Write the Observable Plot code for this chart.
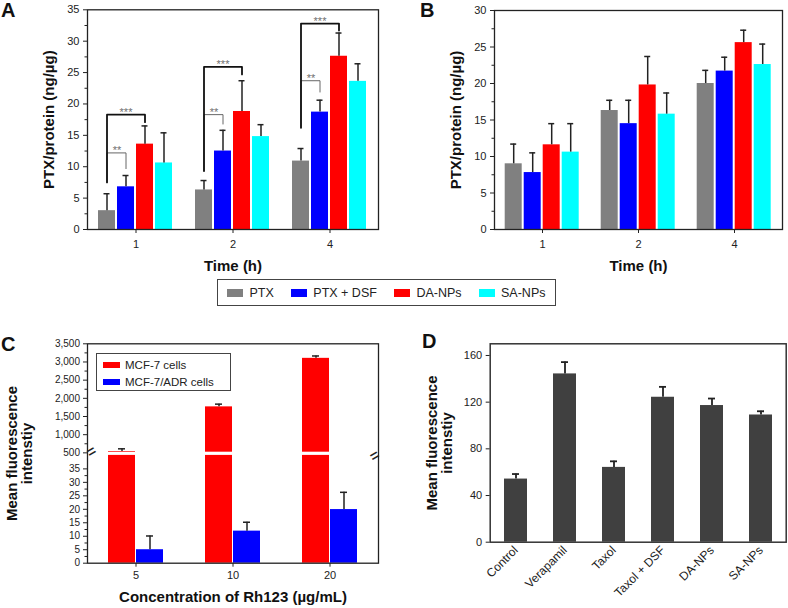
<!DOCTYPE html>
<html><head><meta charset="utf-8">
<script src="https://cdn.jsdelivr.net/npm/d3@7"></script>
<script src="https://cdn.jsdelivr.net/npm/@observablehq/plot@0.6"></script>
<style>
body{margin:0;background:#fff;font-family:"Liberation Sans",Arial,sans-serif;color:#222}
#fig{position:relative;width:788px;height:608px;overflow:hidden;background:#fff}
.panel{position:absolute}
.letter{position:absolute;font-weight:bold;font-size:20px;line-height:20px;color:#111}
svg [aria-label$="axis label"]{font-weight:bold;font-size:15px;fill:#111}
#legMain{position:absolute;left:217px;top:279px;width:337px;height:25px;border:1px solid #444;font-size:12.5px;display:flex;align-items:center;white-space:nowrap}
#legMain .it{display:flex;align-items:center;flex:none;margin-right:17px}
#legMain .it:first-child{margin-left:9px}
#legMain .sw{width:16px;height:8px;margin-right:6.5px;flex:none}
#legC{position:absolute;left:96px;top:353px;width:133px;height:36px;border:1px solid #444;font-size:11.5px;background:#fff;white-space:nowrap}
#legC .it{display:flex;align-items:center;height:13px;margin-left:6px;margin-top:4px}
#legC .sw{width:17px;height:6px;margin-right:5px;flex:none}
</style></head>
<body><div id="fig">
<div class="letter" style="left:1px;top:0px">A</div>
<div class="letter" style="left:420px;top:0px">B</div>
<div class="letter" style="left:1px;top:334px">C</div>
<div class="letter" style="left:422px;top:331px">D</div>
<div class="panel" id="pA" style="left:0;top:0"></div>
<div class="panel" id="pB" style="left:394px;top:0"></div>
<div class="panel" id="pC" style="left:0;top:330px"></div>
<div class="panel" id="pD" style="left:394px;top:330px"></div>
<div id="legMain"></div>
<div id="legC"></div>
</div>
<script>
// ---------- Data ----------
const times = ["1", "2", "4"];
const series = ["PTX", "PTX + DSF", "DA-NPs", "SA-NPs"];
const seriesColors = ["#808080", "#0000ff", "#ff0000", "#00ffff"];

// Panel A: mean and SD per series, at times 1, 2, 4 h
const aPTX = [3.0, 6.3, 10.9],  aPTXsd = [2.7, 1.5, 2.0];
const aDSF = [6.8, 12.5, 18.7], aDSFsd = [1.8, 3.3, 1.9];
const aDA  = [13.6, 18.8, 27.6], aDAsd = [2.9, 4.9, 3.7];
const aSA  = [10.6, 14.8, 23.6], aSAsd = [4.8, 1.9, 2.8];

// Panel B
const bPTX = [9.0, 16.3, 20.0], bPTXsd = [2.7, 1.4, 1.8];
const bDSF = [7.8, 14.5, 21.7], bDSFsd = [2.7, 3.2, 1.9];
const bDA  = [11.6, 19.8, 25.6], bDAsd = [2.9, 3.9, 1.7];
const bSA  = [10.6, 15.8, 22.6], bSAsd = [3.9, 2.9, 2.8];

// Significance brackets in panel A (all start at PTX)
const aBrackets = [
  {time: "1", to: "DA-NPs",    top: 18.3, legFrom: 7.5,  legTo: 17.1, label: "***"},
  {time: "1", to: "PTX + DSF", top: 12.2, legFrom: 7.5,  legTo: 9.7,  label: "**"},
  {time: "2", to: "DA-NPs",    top: 25.9, legFrom: 9.3,  legTo: 24.7, label: "***"},
  {time: "2", to: "PTX + DSF", top: 18.3, legFrom: 9.3,  legTo: 16.8, label: "**"},
  {time: "4", to: "DA-NPs",    top: 32.8, legFrom: 16.2, legTo: 31.7, label: "***"},
  {time: "4", to: "PTX + DSF", top: 23.7, legFrom: 16.2, legTo: 21.9, label: "**"}
];

const abTicks = [0, 5, 10, 15, 20, 25, 30, 35];
const abMinor = [2.5, 7.5, 12.5, 17.5, 22.5, 27.5, 32.5];

// Panel C
const concs = ["5", "10", "20"];
const cSeries = ["MCF-7 cells", "MCF-7/ADR cells"];
const cColors = ["#ff0000", "#0000ff"];
const cMCF7 = [537, 1765, 3100], cMCF7sd = [74, 75, 65];
const cADR = [5.0, 11.9, 19.9],  cADRsd = [5.1, 3.3, 6.4];
const cTicksLow = [0, 5, 10, 15, 20, 25, 30, 35];
const cTicksHigh = [500, 1000, 1500, 2000, 2500, 3000, 3500];
const cMinorLow = [2.5, 7.5, 12.5, 17.5, 22.5, 27.5, 32.5];
const cMinorHigh = [750, 1250, 1750, 2250, 2750, 3250];
const cBreaks = [{c: "5", side: "left"}, {c: "20", side: "right"}];

// Panel D
const dGroups = ["Control", "Verapamil", "Taxol", "Taxol + DSF", "DA-NPs", "SA-NPs"];
const dMean = [54.1, 144.2, 64.1, 124.2, 117.1, 109.0];
const dSd = [4.3, 10.1, 5.2, 8.9, 6.0, 3.2];
const dTicks = [0, 40, 80, 120, 160];

const FONT = "Liberation Sans, Arial, sans-serif";
const INK = "#222";

function rowsFrom(cats, keys, means, sds) {
  return cats.flatMap((c, i) => keys.map((k, j) => ({cat: c, key: k, v: means[j][i], top: means[j][i] + sds[j][i]})));
}

function grouped({means, sds, yMax, mL, mR, mT, brackets}) {
  const rows = rowsFrom(times, series, means, sds);
  const marks = [
    Plot.barY(rows, {fx: "cat", x: "key", y: "v", fill: "key"}),
    Plot.ruleX(rows, {fx: "cat", x: "key", y1: "v", y2: "top", stroke: INK, strokeWidth: 1.5}),
    Plot.tickY(rows, {fx: "cat", x: "key", y: "top", stroke: INK, strokeWidth: 1.5, insetLeft: 5.5, insetRight: 5.5}),
    Plot.axisY(abTicks, {tickSize: 4, tickPadding: 4, fontSize: 11, label: "PTX/protein (ng/µg)", labelArrow: "none", labelAnchor: "center", labelOffset: 44}),
    Plot.axisY(abMinor, {tickSize: 2.5, tickFormat: () => "", label: null}),
    Plot.axisFx({anchor: "bottom", tickSize: 4, tickPadding: 7, fontSize: 11, label: "Time (h)", labelArrow: "none", labelAnchor: "center", labelOffset: 41})
  ];
  if (brackets) {
    const pts = brackets.flatMap((b, i) => [
      {id: i, cat: b.time, big: b.label === "***", x: "PTX", y: b.legFrom},
      {id: i, cat: b.time, big: b.label === "***", x: "PTX", y: b.top},
      {id: i, cat: b.time, big: b.label === "***", x: b.to, y: b.top},
      {id: i, cat: b.time, big: b.label === "***", x: b.to, y: b.legTo}
    ]);
    const big = brackets.filter(b => b.label === "***");
    const small = brackets.filter(b => b.label === "**");
    marks.push(
      Plot.line(pts.filter(p => !p.big), {fx: "cat", x: "x", y: "y", z: "id", stroke: "#666", strokeWidth: 1}),
      Plot.line(pts.filter(p => p.big), {fx: "cat", x: "x", y: "y", z: "id", stroke: "#111", strokeWidth: 1.8}),
      Plot.text(big, {fx: "time", x: () => "PTX + DSF", y: "top", text: "label", fill: "#707070", fontSize: 11, lineAnchor: "bottom", dy: 1}),
      Plot.text(small, {fx: "time", x: () => "PTX", y: "top", text: "label", fill: "#707070", fontSize: 11, lineAnchor: "bottom", dy: 1, dx: 10})
    );
  }
  marks.push(Plot.frame({facet: "super", stroke: INK, strokeWidth: 1.3}));
  return Plot.plot({
    width: 394, height: 275,
    marginLeft: mL, marginRight: mR, marginTop: mT, marginBottom: 46,
    style: {fontFamily: FONT, fontSize: "11px", color: INK, background: "transparent"},
    fx: {domain: times, padding: 0},
    x: {domain: series, paddingInner: 0.08, paddingOuter: 0.53, axis: null},
    y: {domain: [0, yMax]},
    color: {domain: series, range: seriesColors},
    marks
  });
}

document.getElementById("pA").append(grouped({
  means: [aPTX, aDSF, aDA, aSA], sds: [aPTXsd, aDSFsd, aDAsd, aSAsd],
  yMax: 35, mL: 86, mR: 15, mT: 9.3, brackets: aBrackets
}));
document.getElementById("pB").append(grouped({
  means: [bPTX, bDSF, bDA, bSA], sds: [bPTXsd, bDSFsd, bDAsd, bSAsd],
  yMax: 30, mL: 99.3, mR: 5.3, mT: 10
}));

// ---------- Panel C (broken y axis via piecewise scale) ----------
{
  const H = 278, mT = 13.3, mB = 45.3;
  const bottom = H - mB;           // value 0
  const lowPx = 2.695;             // px per unit in the lower segment
  const breakPx = bottom - 40 * lowPx;
  const rows = rowsFrom(concs, cSeries, [cMCF7, cADR], [cMCF7sd, cADRsd]);
  const fmt = d3.format(",");
  const svg = Plot.plot({
    width: 394, height: H,
    marginLeft: 86, marginRight: 14.7, marginTop: mT, marginBottom: mB,
    style: {fontFamily: FONT, fontSize: "10px", color: INK, background: "transparent"},
    fx: {domain: concs, padding: 0},
    x: {domain: cSeries, paddingInner: 0.05, paddingOuter: 0.7, axis: null},
    y: {type: "linear", domain: [0, 40, 430, 3500], range: [bottom, breakPx, breakPx, mT]},
    color: {domain: cSeries, range: cColors},
    marks: [
      Plot.barY(rows, {fx: "cat", x: "key", y: "v", fill: "key"}),
      Plot.ruleX(rows, {fx: "cat", x: "key", y1: "v", y2: "top", stroke: INK, strokeWidth: 1.5}),
      Plot.tickY(rows, {fx: "cat", x: "key", y: "top", stroke: INK, strokeWidth: 1.5, insetLeft: 10, insetRight: 10}),
      Plot.rectY([{}], {y1: 430, y2: 518, fill: "white"}),
      Plot.axisY(cTicksLow.concat(cTicksHigh), {tickSize: 4, tickPadding: 3.5, tickFormat: fmt, fontSize: 10,
        label: "Mean fluorescence\nintenstiy", labelArrow: "none", labelAnchor: "center", labelOffset: 81}),
      Plot.axisY(cMinorLow.concat(cMinorHigh), {tickSize: 2.5, tickFormat: () => "", label: null}),
      Plot.axisFx({anchor: "bottom", tickSize: 4, tickPadding: 4, fontSize: 11,
        label: "Concentration of Rh123 (µg/mL)", labelArrow: "none", labelAnchor: "center", labelOffset: 39}),
      Plot.frame({facet: "super", stroke: INK, strokeWidth: 1.3}),
      Plot.text(cBreaks.filter(d => d.side === "left"), {fx: "c", frameAnchor: "left", y: () => 474, text: () => "=",
        fontSize: 15, fontWeight: "bold", rotate: -30, fill: INK}),
      Plot.text(cBreaks.filter(d => d.side === "right"), {fx: "c", frameAnchor: "right", y: () => 474, text: () => "=",
        fontSize: 15, fontWeight: "bold", rotate: -30, fill: INK})
    ]
  });
  document.getElementById("pC").append(svg);
}

// ---------- Panel D ----------
{
  const rows = dGroups.map((g, i) => ({g, v: dMean[i], top: dMean[i] + dSd[i]}));
  const svg = Plot.plot({
    width: 394, height: 278,
    marginLeft: 95.7, marginRight: 2.3, marginTop: 13.3, marginBottom: 66.3,
    style: {fontFamily: FONT, fontSize: "11px", color: INK, background: "transparent"},
    x: {domain: dGroups, paddingInner: 0.54, paddingOuter: 0.29},
    y: {domain: [0, 170]},
    marks: [
      Plot.barY(rows, {x: "g", y: "v", fill: "#404040"}),
      Plot.ruleX(rows, {x: "g", y1: "v", y2: "top", stroke: "#222", strokeWidth: 1.8}),
      Plot.tickY(rows, {x: "g", y: "top", stroke: "#222", strokeWidth: 1.8, insetLeft: 8, insetRight: 8}),
      Plot.axisY(dTicks, {tickSize: 4, tickPadding: 4, fontSize: 11,
        label: "Mean fluorescence\nintenstiy", labelArrow: "none", labelAnchor: "center", labelOffset: 64}),
      Plot.axisX({tickSize: 0, tickRotate: -45, tickPadding: 6, fontSize: 12, label: null}),
      Plot.frame({stroke: "#333", strokeWidth: 1.5})
    ]
  });
  document.getElementById("pD").append(svg);
}

// ---------- Legends ----------
{
  const leg = document.getElementById("legMain");
  series.forEach((s, i) => {
    const it = document.createElement("div"); it.className = "it";
    const sw = document.createElement("div"); sw.className = "sw"; sw.style.background = seriesColors[i];
    const t = document.createElement("span"); t.textContent = s;
    it.append(sw, t); leg.append(it);
  });
  const legC = document.getElementById("legC");
  cSeries.forEach((s, i) => {
    const it = document.createElement("div"); it.className = "it";
    const sw = document.createElement("div"); sw.className = "sw"; sw.style.background = cColors[i];
    const t = document.createElement("span"); t.textContent = s;
    it.append(sw, t); legC.append(it);
  });
}
</script>
</body></html>
